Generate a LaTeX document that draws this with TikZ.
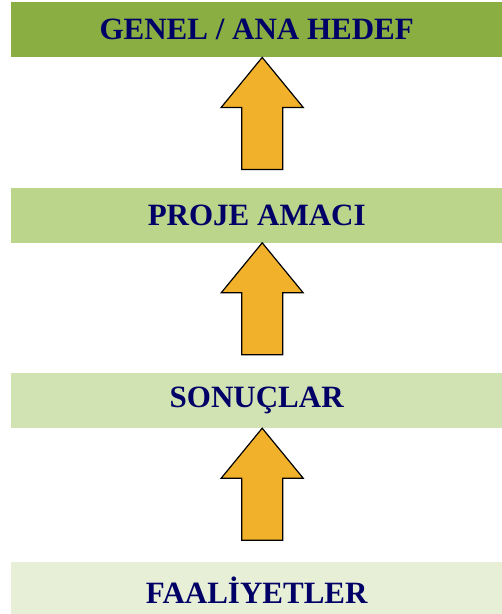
\documentclass[tikz,border=0pt]{standalone}
\usepackage{fontspec}
\setmainfont{Liberation Serif}
\usetikzlibrary{positioning,calc}
\definecolor{navytext}{HTML}{000066}
\definecolor{greenA}{HTML}{8AAE42}
\definecolor{greenB}{HTML}{BBD58A}
\definecolor{greenC}{HTML}{D1E2B3}
\definecolor{greenD}{HTML}{E7F0D7}
\definecolor{arroworange}{HTML}{F2B12B}
\tikzset{
  levelbar/.style={minimum width=491pt, minimum height=55pt, inner sep=0pt,
    text=navytext, font=\fontsize{31}{31}\selectfont\bfseries},
  uparrow/.style={draw=black, line width=1.2pt, fill=arroworange, line join=miter}
}
\begin{document}
\begin{tikzpicture}[x=1pt, y=-1pt]
  \useasboundingbox (0,0) rectangle (502,614);
  % Seviyeler
  \node[levelbar, fill=greenA, anchor=north west] (hedef) at (11,2) {GENEL / ANA HEDEF};
  \node[levelbar, fill=greenB, below=130pt of hedef] (amac) {PROJE AMACI};
  \node[levelbar, fill=greenC, below=130pt of amac] (sonuc) {SONUÇLAR};
  \node[levelbar, fill=greenD, below=134pt of sonuc] (faaliyet) {FAALİYETLER};
  % Yukari oklar
  \foreach \hi in {hedef, amac, sonuc} {
    \coordinate (tip) at ($(\hi.south)+(5.5,0)$);
    \draw[uparrow] (tip) -- ++(41,50) -- ++(-20.5,0) -- ++(0,62) -- ++(-41,0)
      -- ++(0,-62) -- ++(-20.5,0) -- cycle;
  }
\end{tikzpicture}
\end{document}
